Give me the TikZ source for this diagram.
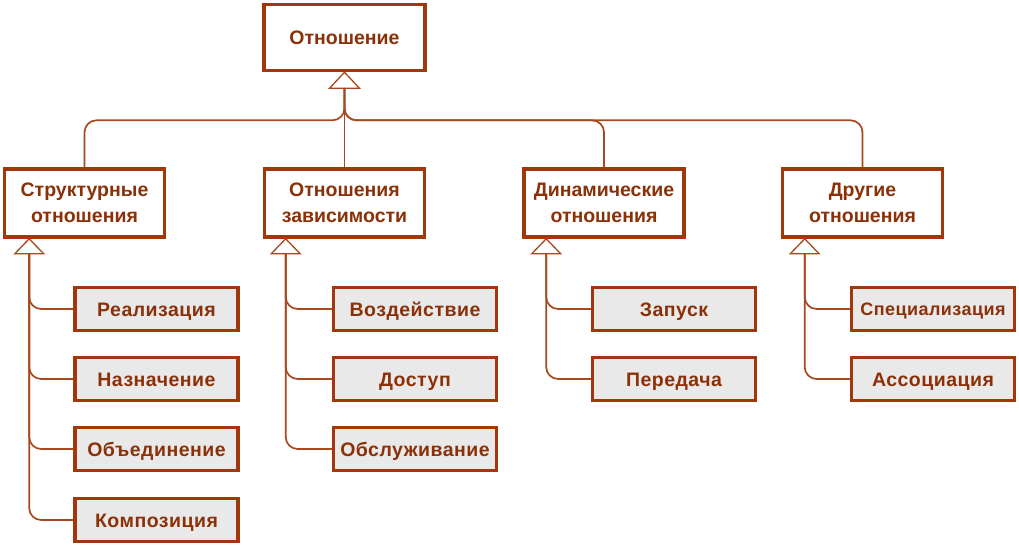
\documentclass[tikz,border=0pt]{standalone}
\usepackage{fontspec}
\setmainfont{Liberation Sans}
\newfontfamily\spacedfont[LetterSpace=2.5]{Liberation Sans}
\usetikzlibrary{calc}
\definecolor{bord}{RGB}{160,56,12}
\definecolor{txt}{RGB}{140,48,8}
\definecolor{conn}{RGB}{168,72,30}
\definecolor{cfill}{RGB}{233,233,233}
\begin{document}
\begin{tikzpicture}[x=1pt,y=-1pt,
  mainbox/.style={draw=bord, line width=3.6pt, fill=white, text=txt, font=\fontsize{19.5}{26}\selectfont\bfseries, align=center, inner sep=0pt, minimum width=161pt, minimum height=66pt},
  subbox/.style={draw=bord, line width=3.6pt, fill=white, text=txt, font=\fontsize{19.5}{26}\selectfont\bfseries, align=center, inner sep=0pt, minimum width=160pt, minimum height=68pt},
  leaf/.style={draw=bord, line width=3.2pt, fill=cfill, text=txt, font=\spacedfont\fontsize{19.5}{22}\selectfont\bfseries, align=center, inner sep=0pt, text height=14pt, text depth=0pt, minimum width=163pt, minimum height=43pt},
  conline/.style={draw=conn, line width=1.7pt, rounded corners=12pt},
  tri/.style={draw=conn, line width=1.3pt, fill=white, line join=miter}]
\useasboundingbox (0,0) rectangle (1019,547);
% nodes
\node[mainbox] (top) at (344.5,37.5) {Отношение};
\node[subbox] (b1) at (84.5,203) {Структурные\\отношения};
\node[subbox] (b2) at (344.5,203) {Отношения\\зависимости};
\node[subbox] (b3) at (604,203) {Динамические\\отношения};
\node[subbox] (b4) at (862.5,203) {Другие\\отношения};
\node[leaf] (c11) at (156.5,309) {Реализация};
\node[leaf] (c12) at (156.5,379) {Назначение};
\node[leaf] (c13) at (156.5,449) {Объединение};
\node[leaf] (c14) at (156.5,520) {Композиция};
\node[leaf] (c21) at (415,309) {Воздействие};
\node[leaf] (c22) at (415,379) {Доступ};
\node[leaf] (c23) at (415,449) {Обслуживание};
\node[leaf] (c31) at (674,309) {Запуск};
\node[leaf] (c32) at (674,379) {Передача};
\node[leaf, font=\spacedfont\fontsize{18}{20}\selectfont\bfseries, text height=13pt] (c41) at (933,309) {Специализация};
\node[leaf] (c42) at (933,379) {Ассоциация};
% triangle coordinates
\coordinate (a0) at (top.south);
\coordinate (t0) at ($(top.south)+(0,16)$);
\coordinate (j0) at ($(top.south)+(0,48)$);
\coordinate (a1) at ($(b1.south west)+(26.5,0)$);
\coordinate (t1) at ($(a1)+(0,15)$);
\coordinate (a2) at ($(b2.south west)+(23,0)$);
\coordinate (t2) at ($(a2)+(0,15)$);
\coordinate (a3) at ($(b3.south west)+(24,0)$);
\coordinate (t3) at ($(a3)+(0,15)$);
\coordinate (a4) at ($(b4.south west)+(24,0)$);
\coordinate (t4) at ($(a4)+(0,15)$);
% top-level connectors
\draw[conline] (b1.north) |- (j0) -- (t0);
\draw[conline] (b3.north) |- (j0) -- (t0);
\draw[conline] (b4.north) |- (j0) -- (t0);
\draw[conline] (b2.north) -- (t0);
% child connectors
\foreach \c in {c11,c12,c13,c14} \draw[conline] (t1) |- (\c.west);
\foreach \c in {c21,c22,c23} \draw[conline] (t2) |- (\c.west);
\foreach \c in {c31,c32} \draw[conline] (t3) |- (\c.west);
\foreach \c in {c41,c42} \draw[conline] (t4) |- (\c.west);
% triangles
\draw[tri] (a0) -- ($(t0)+(-15,0)$) -- ($(t0)+(15,0)$) -- cycle;
\foreach \i in {1,2,3,4} \draw[tri] (a\i) -- ($(t\i)+(-14.5,0)$) -- ($(t\i)+(14.5,0)$) -- cycle;
\end{tikzpicture}
\end{document}
